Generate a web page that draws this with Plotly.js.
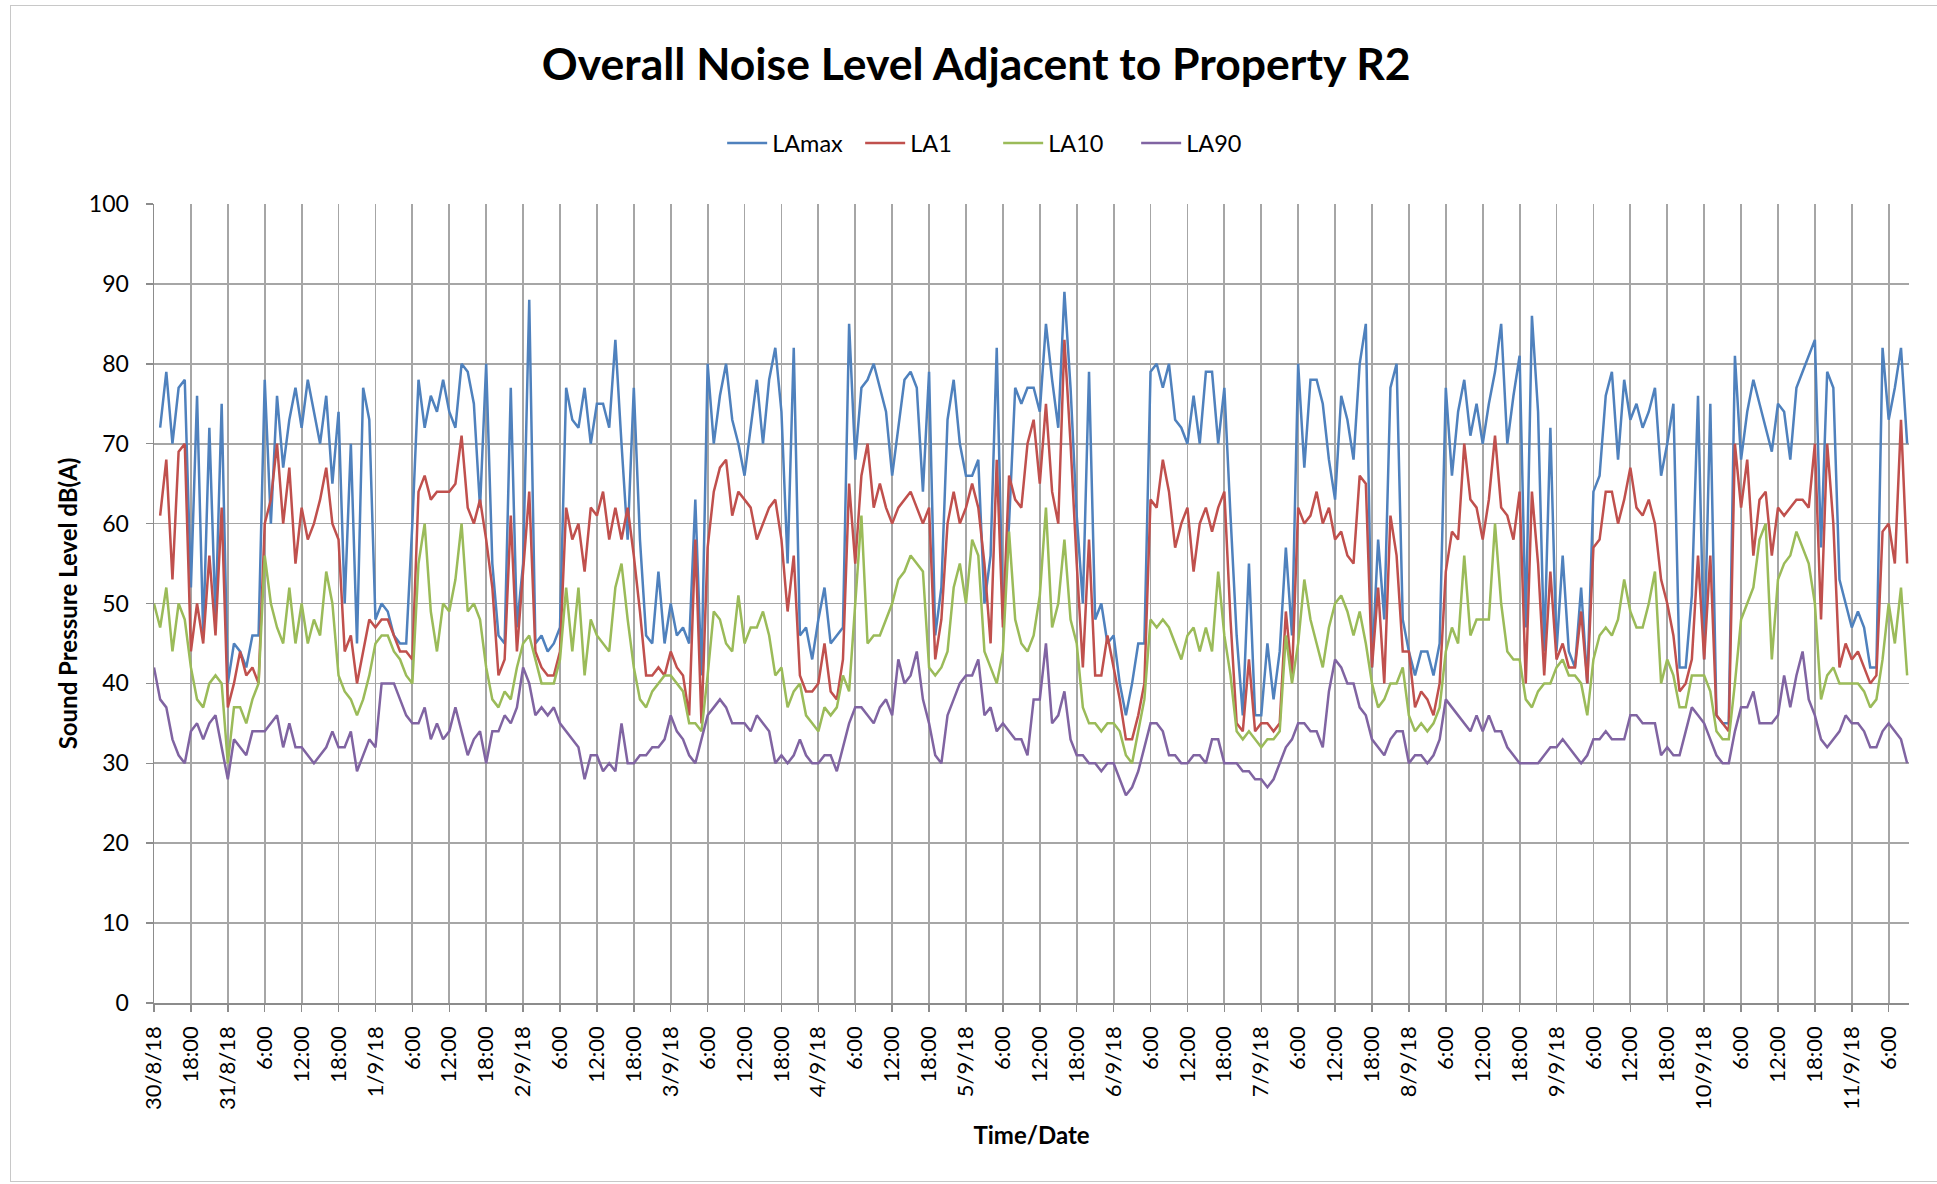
<!DOCTYPE html>
<html>
<head>
<meta charset="utf-8">
<script src="https://cdn.plot.ly/plotly-3.0.1.min.js"></script>
<style>
  html, body { margin: 0; padding: 0; background: #ffffff; overflow: hidden; }
  #chart { width: 1937px; height: 1184px; }
  #frame { position: absolute; left: 10px; top: 5px; width: 1935px; height: 1177px;
           border: 1px solid #c8c8c8; pointer-events: none; box-sizing: border-box; }
</style>
</head>
<body>
<div id="chart"></div>
<div id="frame"></div>
<script>
// Hourly samples starting 30/8/18 12:00 (hour 0)
const LAmax = [
  null,72,79,70,77,78,52,76,46,72,48,75,40,45,44,42,46,46,78,60,76,67,73,77,
  72,78,74,70,76,65,74,50,70,45,77,73,48,50,49,46,45,45,60,78,72,76,74,78,
  74,72,80,79,75,62,80,55,46,45,77,47,55,88,45,46,44,45,47,77,73,72,77,70,
  75,75,72,83,70,58,77,58,46,45,54,45,50,46,47,45,63,41,80,70,76,80,73,70,
  66,72,78,70,78,82,74,55,82,46,47,43,48,52,45,46,47,85,68,77,78,80,77,74,
  66,72,78,79,77,64,79,46,52,73,78,70,66,66,68,50,56,82,48,60,77,75,77,77,
  74,85,78,72,89,77,61,50,79,48,50,45,46,40,36,40,45,45,79,80,77,80,73,72,
  70,76,70,79,79,70,77,61,46,36,55,36,36,45,38,44,57,46,80,67,78,78,75,68,
  63,76,73,68,80,85,42,58,48,77,80,48,44,41,44,44,41,45,77,66,74,78,71,75,
  70,75,79,85,70,76,81,47,86,74,44,72,44,56,44,42,52,40,64,66,76,79,68,78,
  73,75,72,74,77,66,70,75,42,42,51,76,43,75,36,35,35,81,68,74,78,75,72,69,
  75,74,68,77,79,81,83,57,79,77,53,50,47,49,47,42,42,82,73,77,82,70
];
const LA1 = [
  null,61,68,53,69,70,44,50,45,56,46,62,37,40,44,41,42,40,60,63,70,60,67,55,
  62,58,60,63,67,60,58,44,46,40,44,48,47,48,48,46,44,44,43,64,66,63,64,64,
  64,65,71,62,60,63,58,52,41,43,61,44,54,64,44,42,41,41,44,62,58,60,54,62,
  61,64,58,62,58,62,56,49,41,41,42,41,44,42,41,36,58,35,57,64,67,68,61,64,
  63,62,58,60,62,63,58,49,56,41,39,39,40,45,39,38,43,65,55,66,70,62,65,62,
  60,62,63,64,62,60,62,43,48,60,64,60,62,65,62,55,45,68,47,66,63,62,70,73,
  65,75,64,60,83,70,55,42,58,41,41,46,42,38,33,33,36,40,63,62,68,64,57,60,
  62,54,60,62,59,62,64,48,35,34,43,34,35,35,34,35,49,41,62,60,61,64,60,62,
  58,59,56,55,66,65,42,52,40,61,56,44,44,37,39,38,36,40,54,59,58,70,63,62,
  58,63,71,62,61,58,64,40,64,55,41,54,43,45,42,42,49,40,57,58,64,64,60,63,
  67,62,61,63,60,53,50,46,39,40,43,56,43,56,36,35,34,70,62,68,56,63,64,56,
  62,61,62,63,63,62,70,48,70,60,42,45,43,44,42,40,41,59,60,55,73,55
];
const LA10 = [
  50,47,52,44,50,48,42,38,37,40,41,40,30,37,37,35,38,40,56,50,47,45,52,45,
  50,45,48,46,54,50,41,39,38,36,38,41,45,46,46,44,43,41,40,55,60,49,44,50,
  49,53,60,49,50,48,42,38,37,39,38,42,45,46,43,40,40,40,43,52,44,52,41,48,
  46,45,44,52,55,48,42,38,37,39,40,41,41,40,39,35,35,34,41,49,48,45,44,51,
  45,47,47,49,46,41,42,37,39,40,36,35,34,37,36,37,41,39,50,61,45,46,46,48,
  50,53,54,56,55,54,42,41,42,44,52,55,50,58,56,44,42,40,44,59,48,45,44,46,
  51,62,47,50,58,48,45,37,35,35,34,35,35,34,31,30,34,38,48,47,48,47,45,43,
  46,47,44,47,44,54,46,41,34,33,34,33,32,33,33,34,46,40,45,53,48,45,42,47,
  50,51,49,46,49,45,40,37,38,40,40,42,36,34,35,34,35,37,44,47,45,56,46,48,
  48,48,60,50,44,43,43,38,37,39,40,40,42,43,41,41,40,36,43,46,47,46,48,53,
  49,47,47,50,54,40,43,41,37,37,41,41,41,39,34,33,33,40,48,50,52,58,60,43,
  53,55,56,59,57,55,50,38,41,42,40,40,40,40,39,37,38,43,50,45,52,41
];
const LA90 = [
  42,38,37,33,31,30,34,35,33,35,36,32,28,33,32,31,34,34,34,35,36,32,35,32,
  32,31,30,31,32,34,32,32,34,29,31,33,32,40,40,40,38,36,35,35,37,33,35,33,
  34,37,34,31,33,34,30,34,34,36,35,37,42,40,36,37,36,37,35,34,33,32,28,31,
  31,29,30,29,35,30,30,31,31,32,32,33,36,34,33,31,30,33,36,37,38,37,35,35,
  35,34,36,35,34,30,31,30,31,33,31,30,30,31,31,29,32,35,37,37,36,35,37,38,
  36,43,40,41,44,38,35,31,30,36,38,40,41,41,43,36,37,34,35,34,33,33,31,38,
  38,45,35,36,39,33,31,31,30,30,29,30,30,28,26,27,29,32,35,35,34,31,31,30,
  30,31,31,30,33,33,30,30,30,29,29,28,28,27,28,30,32,33,35,35,34,34,32,39,
  43,42,40,40,37,36,33,32,31,33,34,34,30,31,31,30,31,33,38,37,36,35,34,36,
  34,36,34,34,32,31,30,30,30,30,31,32,32,33,32,31,30,31,33,33,34,33,33,33,
  36,36,35,35,35,31,32,31,31,34,37,36,35,33,31,30,30,34,37,37,39,35,35,35,
  36,41,37,41,44,38,36,33,32,33,34,36,35,35,34,32,32,34,35,34,33,30
];
const tickLabels = ["30/8/18","18:00","31/8/18","6:00","12:00","18:00","1/9/18","6:00","12:00","18:00",
  "2/9/18","6:00","12:00","18:00","3/9/18","6:00","12:00","18:00","4/9/18","6:00","12:00","18:00",
  "5/9/18","6:00","12:00","18:00","6/9/18","6:00","12:00","18:00","7/9/18","6:00","12:00","18:00",
  "8/9/18","6:00","12:00","18:00","9/9/18","6:00","12:00","18:00","10/9/18","6:00","12:00","18:00",
  "11/9/18","6:00"];
const seriesNames = ["LAmax","LA1","LA10","LA90"];
const seriesColors = ["#4F81BD","#C0504D","#9BBB59","#8064A2"];
const stepHours = 1;
const tickEveryHours = 6;

const hours = LAmax.map((_, i) => i * stepHours);
const tickVals = tickLabels.map((_, i) => i * tickEveryHours);
const allSeries = [LAmax, LA1, LA10, LA90];

const traces = allSeries.map((vals, k) => ({
  type: "scatter",
  mode: "lines",
  name: seriesNames[k],
  x: hours,
  y: vals,
  line: { color: seriesColors[k], width: 2.5 },
  hoverinfo: "skip"
}));

const FONT = "Lato, 'Open Sans', 'DejaVu Sans', sans-serif";
const layout = {
  width: 1937, height: 1184,
  paper_bgcolor: "#ffffff", plot_bgcolor: "#ffffff",
  margin: { l: 154, r: 28, t: 204, b: 181 },
  font: { family: FONT, color: "#000000", size: 22 },
  title: {
    text: "<b>Overall Noise Level Adjacent to Property R2</b>",
    font: { family: FONT, size: 44.5, color: "#000000" },
    x: 0.504, xref: "container", xanchor: "center",
    y: 0.946, yref: "container", yanchor: "middle"
  },
  showlegend: true,
  legend: {
    orientation: "h", x: 0.481, xanchor: "center", y: 1.076, yanchor: "middle",
    font: { family: FONT, size: 23.5, color: "#000000" },
    traceorder: "normal", itemwidth: 40, entrywidth: 83, entrywidthmode: "pixels",
    bgcolor: "rgba(0,0,0,0)"
  },
  xaxis: {
    range: [0, 285.3],
    tickmode: "array", tickvals: tickVals, ticktext: tickLabels,
    tickangle: -90,
    tickfont: { family: FONT, size: 22, color: "#000000" },
    ticks: "outside", ticklen: 7, tickcolor: "#8c8c8c", tickwidth: 1.5,
    ticklabelstandoff: 6,
    showgrid: true, gridcolor: "#a6a6a6", gridwidth: 1.8,
    showline: true, linecolor: "#8c8c8c", linewidth: 1.5,
    zeroline: false,
    title: { text: "<b>Time/Date</b>", font: { family: FONT, size: 24, color: "#000000" }, standoff: 18 },
    automargin: false
  },
  yaxis: {
    range: [0, 100], dtick: 10, tick0: 0,
    tickfont: { family: FONT, size: 23, color: "#000000" },
    ticks: "outside", ticklen: 7, tickcolor: "#8c8c8c", tickwidth: 1.5,
    ticklabelstandoff: 12,
    showgrid: true, gridcolor: "#a6a6a6", gridwidth: 1.8,
    showline: true, linecolor: "#8c8c8c", linewidth: 1.5,
    zeroline: false,
    title: { text: "<b>Sound Pressure Level dB(A)</b>", font: { family: FONT, size: 24, color: "#000000" }, standoff: 4 },
    automargin: false
  }
};

Plotly.newPlot("chart", traces, layout, { staticPlot: true, displayModeBar: false });
</script>
</body>
</html>
